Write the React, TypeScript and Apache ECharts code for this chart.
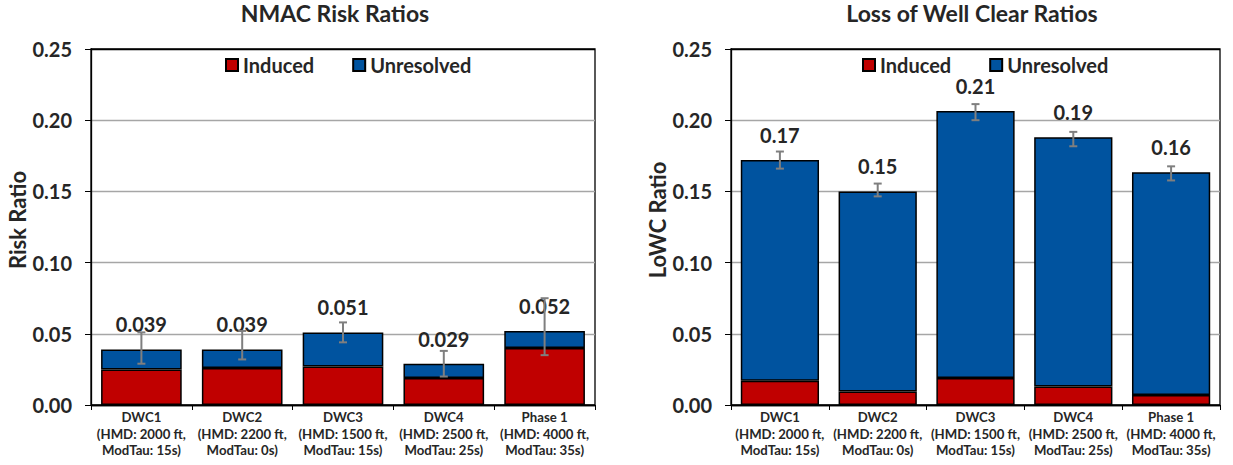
import React, { useEffect, useRef } from "react";
import * as echarts from "echarts";

const categories = [
  "DWC1\n(HMD: 2000 ft,\nModTau: 15s)",
  "DWC2\n(HMD: 2200 ft,\nModTau: 0s)",
  "DWC3\n(HMD: 1500 ft,\nModTau: 15s)",
  "DWC4\n(HMD: 2500 ft,\nModTau: 25s)",
  "Phase 1\n(HMD: 4000 ft,\nModTau: 35s)",
];

// NMAC Risk Ratios
const nmacInduced = [0.025, 0.026, 0.027, 0.019, 0.04];
const nmacUnresolved = [0.014, 0.013, 0.024, 0.01, 0.012];
const nmacLabels = ["0.039", "0.039", "0.051", "0.029", "0.052"];
const nmacErrLow = [0.029, 0.032, 0.044, 0.02, 0.035];
const nmacErrHigh = [0.051, 0.052, 0.058, 0.038, 0.075];

// Loss of Well Clear Ratios
const lowcInduced = [0.017, 0.0095, 0.019, 0.013, 0.007];
const lowcUnresolved = [0.155, 0.1405, 0.1875, 0.175, 0.1565];
const lowcLabels = ["0.17", "0.15", "0.21", "0.19", "0.16"];
const lowcErrLow = [0.166, 0.1465, 0.2, 0.1817, 0.1577];
const lowcErrHigh = [0.178, 0.1555, 0.2113, 0.1918, 0.1676];

const yTicks = [0, 0.05, 0.1, 0.15, 0.2, 0.25];

const FONT = "Lato";
const TEXT = "#262626";
const RED = "#C00000";
const BLUE = "#00539F";

function errorRender(params: any, api: any) {
  const x = api.value(0);
  const lo = api.coord([x, api.value(1)]);
  const hi = api.coord([x, api.value(2)]);
  const cap = 4;
  const style = { stroke: "#7F7F7F", lineWidth: 2 };
  return {
    type: "group",
    children: [
      { type: "line", shape: { x1: hi[0], y1: hi[1], x2: lo[0], y2: lo[1] }, style },
      { type: "line", shape: { x1: hi[0] - cap, y1: hi[1], x2: hi[0] + cap, y2: hi[1] }, style },
      { type: "line", shape: { x1: lo[0] - cap, y1: lo[1], x2: lo[0] + cap, y2: lo[1] }, style },
    ],
  };
}

export default function App() {
  const ref = useRef<HTMLDivElement>(null);
  useEffect(() => {
    if (!ref.current) return;
    const chart = echarts.init(ref.current, null, { renderer: "svg" });

    const grids = [
      { left: 91, right: 638, top: 49, bottom: 60 },
      { left: 731, right: 13, top: 49, bottom: 60 },
    ];

    const mkX = (i: number) => ({
      type: "category",
      gridIndex: i,
      data: categories,
      axisLine: { lineStyle: { color: "#000", width: 1.3 } },
      axisTick: { show: true, length: 5, alignWithLabel: false, lineStyle: { color: "#000" } },
      axisLabel: {
        interval: 0,
        margin: 4,
        color: TEXT,
        fontFamily: FONT,
        fontWeight: "bold",
        fontSize: 13.2,
        lineHeight: 16.5,
      },
    });

    const mkY = (i: number, name: string) => ({
      type: "value",
      gridIndex: i,
      min: 0,
      max: 0.25,
      interval: 0.05,
      name,
      nameLocation: "middle",
      nameGap: 63,
      nameRotate: 90,
      nameTextStyle: {
        color: TEXT,
        fontFamily: FONT,
        fontWeight: "bold",
        fontSize: 22,
        padding: [0, 0, 0, 14],
      },
      axisLine: { show: true, lineStyle: { color: "#000", width: 1.3 } },
      axisTick: { show: true, length: 6, inside: false, lineStyle: { color: "#000" } },
      axisLabel: {
        margin: 19,
        color: TEXT,
        fontFamily: FONT,
        fontWeight: "bold",
        fontSize: 20,
        formatter: (v: number) => v.toFixed(2),
      },
      splitLine: {
        show: true,
        lineStyle: {
          color: yTicks.map((t, k) => (k === 0 || k === yTicks.length - 1 ? "#000" : "#A6A6A6")),
          width: 1.3,
        },
      },
    });

    const barCommon = {
      type: "bar",
      barCategoryGap: "20%",
      itemStyle: { borderColor: "#000", borderWidth: 1.5 },
    };

    const totalLabel = (labels: string[]) => ({
      show: true,
      position: "top",
      distance: 15,
      color: TEXT,
      fontFamily: FONT,
      fontWeight: "bold",
      fontSize: 20,
      formatter: (p: any) => labels[p.dataIndex],
    });

    const legendCommon = {
      orient: "horizontal",
      top: 50,
      itemWidth: 12,
      itemHeight: 12,
      itemGap: 38,
      icon: "rect",
      data: ["Induced", "Unresolved"],
      textStyle: { color: TEXT, fontFamily: FONT, fontWeight: "bold", fontSize: 20 },
    };

    const titleStyle = { color: TEXT, fontFamily: FONT, fontWeight: "bold", fontSize: 23 };

    chart.setOption({
      animation: false,
      backgroundColor: "#fff",
      title: [
        { text: "NMAC Risk Ratios", left: 335, top: 1, padding: 0, textAlign: "center", textStyle: titleStyle },
        { text: "Loss of Well Clear Ratios", left: 972, top: 1, padding: 0, textAlign: "center", textStyle: titleStyle },
      ],
      legend: [
        { ...legendCommon, left: 220 },
        { ...legendCommon, left: 857 },
      ],
      grid: grids.map((g) => ({ ...g, show: true, borderColor: "#000", borderWidth: 1.3, backgroundColor: "transparent" })),
      xAxis: [mkX(0), mkX(1)],
      yAxis: [mkY(0, "Risk Ratio"), mkY(1, "LoWC Ratio")],
      series: [
        { ...barCommon, name: "Induced", stack: "L", xAxisIndex: 0, yAxisIndex: 0, data: nmacInduced, itemStyle: { ...barCommon.itemStyle, color: RED } },
        { ...barCommon, name: "Unresolved", stack: "L", xAxisIndex: 0, yAxisIndex: 0, data: nmacUnresolved, itemStyle: { ...barCommon.itemStyle, color: BLUE }, label: totalLabel(nmacLabels) },
        { ...barCommon, name: "Induced", stack: "R", xAxisIndex: 1, yAxisIndex: 1, data: lowcInduced, itemStyle: { ...barCommon.itemStyle, color: RED } },
        { ...barCommon, name: "Unresolved", stack: "R", xAxisIndex: 1, yAxisIndex: 1, data: lowcUnresolved, itemStyle: { ...barCommon.itemStyle, color: BLUE }, label: totalLabel(lowcLabels) },
        {
          type: "custom",
          name: "errL",
          xAxisIndex: 0,
          yAxisIndex: 0,
          renderItem: errorRender,
          encode: { x: 0, y: [1, 2] },
          data: categories.map((_, i) => [i, nmacErrLow[i], nmacErrHigh[i]]),
          z: 5,
        },
        {
          type: "custom",
          name: "errR",
          xAxisIndex: 1,
          yAxisIndex: 1,
          renderItem: errorRender,
          encode: { x: 0, y: [1, 2] },
          data: categories.map((_, i) => [i, lowcErrLow[i], lowcErrHigh[i]]),
          z: 5,
        },
      ],
    });
    return () => chart.dispose();
  }, []);
  return (
    <div
      ref={ref}
      style={{ position: "fixed", left: 0, top: 0, width: 1233, height: 465, background: "#fff" }}
    />
  );
}
